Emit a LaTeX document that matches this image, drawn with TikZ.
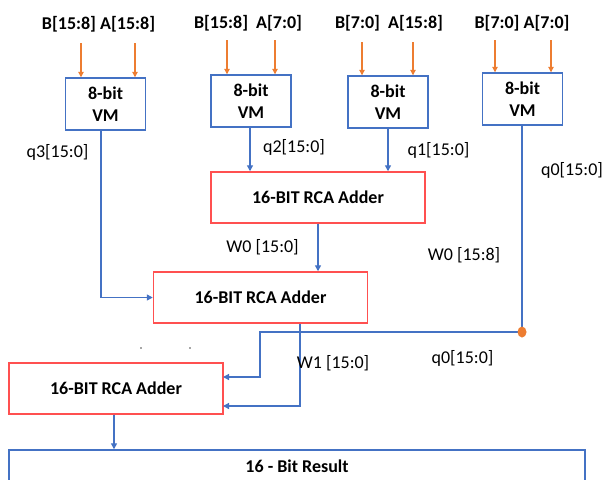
\documentclass[tikz,border=0pt]{standalone}
\usepackage{fontspec}
\setmainfont{Carlito}
\usetikzlibrary{arrows.meta}
\definecolor{vmblue}{HTML}{4472C4}
\definecolor{inorange}{HTML}{ED7D31}
\definecolor{addred}{HTML}{FF5050}
\begin{document}
\begin{tikzpicture}[x=0.75pt,y=-0.75pt,
  lbl/.style={font=\fontsize{13.5}{16}\selectfont, inner sep=0pt},
  blbl/.style={font=\fontsize{13.5}{16}\selectfont\bfseries, inner sep=0pt},
  vmbox/.style={draw=vmblue, line width=1.1pt, minimum width=60pt, minimum height=39pt,
    align=center, font=\fontsize{13.5}{16.5}\selectfont\bfseries, inner sep=0pt},
  addbox/.style={draw=addred, line width=1.1pt, minimum width=160.5pt, minimum height=38.25pt,
    font=\fontsize{13.5}{16}\selectfont\bfseries, inner sep=0pt},
  inarrow/.style={draw=inorange, line width=0.8pt, -{Triangle[length=4pt,width=4pt]}},
  wire/.style={draw=vmblue, line width=1pt},
  warrow/.style={wire, -{Triangle[length=4.5pt,width=4.5pt]}}
]
\useasboundingbox (0,0) rectangle (602,479);

% top input labels
\node[blbl] (in3) at (98.5,24) {B[15:8] A[15:8]};
\node[blbl] (in2) at (248,23) {B[15:8]\hspace{3pt} A[7:0]};
\node[blbl] (in1) at (389,23) {B[7:0]\hspace{3pt} A[15:8]};
\node[blbl] (in0) at (522,23) {B[7:0] A[7:0]};

% VM boxes
\node[vmbox] (vm3) at (105.5,104) {8-bit\\VM};
\node[vmbox] (vm2) at (251,101) {8-bit\\VM};
\node[vmbox] (vm1) at (388,102) {8-bit\\VM};
\node[vmbox] (vm0) at (522.5,99) {8-bit\\VM};

% input arrows
\coordinate (i3b) at (81,43);  \coordinate (i3a) at (135,43);
\coordinate (i2b) at (227,40); \coordinate (i2a) at (275,40);
\coordinate (i1b) at (362,42); \coordinate (i1a) at (413,42);
\coordinate (i0b) at (495,40); \coordinate (i0a) at (551,40);
\draw[inarrow] (i3b) -- (i3b |- vm3.north);
\draw[inarrow] (i3a) -- (i3a |- vm3.north);
\draw[inarrow] (i2b) -- (i2b |- vm2.north);
\draw[inarrow] (i2a) -- (i2a |- vm2.north);
\draw[inarrow] (i1b) -- (i1b |- vm1.north);
\draw[inarrow] (i1a) -- (i1a |- vm1.north);
\draw[inarrow] (i0b) -- (i0b |- vm0.north);
\draw[inarrow] (i0a) -- (i0a |- vm0.north);

% adders
\node[addbox] (a1) at (318,197.5) {16-BIT RCA Adder};
\node[addbox] (a2) at (260.5,297.5) {16-BIT RCA Adder};
\node[addbox] (a3) at (116,388.5) {16-BIT RCA Adder};

% result box (cut off at bottom)
\node[draw=vmblue, line width=1.1pt, minimum width=432pt, minimum height=33pt, inner sep=0pt] (res) at (297,472) {};
\node[blbl] (restxt) at (297,466) {16 - Bit Result};

% wires
\coordinate (x3) at (101,0);
\coordinate (x2) at (250,0);
\coordinate (x1) at (388,0);
\coordinate (x0) at (522,0);
\coordinate (xa1) at (318,0);
\coordinate (xa2) at (300,0);
\coordinate (xa3) at (114,0);
\draw[warrow] (vm3.south -| x3) |- (a2.west);
\draw[warrow] (vm2.south -| x2) -- (a1.north -| x2);
\draw[warrow] (vm1.south -| x1) -- (a1.north -| x1);
\draw[warrow] (a1.south -| xa1) -- (a2.north -| xa1);

\coordinate (dot) at (522,332);
\coordinate (bend) at (260,332);
\coordinate (q0in) at (223,377);
\coordinate (w1in) at (223,406);
\draw[wire] (vm0.south -| x0) -- (dot);
\draw[warrow] (dot) -- (bend) |- (q0in);
\draw[warrow] (a2.south -| xa2) |- (w1in);
\draw[warrow] (a3.south -| xa3) -- (res.north -| xa3);
\fill[inorange] (dot) ellipse [x radius=4.5, y radius=5.5];

% signal labels
\node[lbl] (lq3) at (57.5,152) {q3[15:0]};
\node[lbl] (lq2) at (294,147) {q2[15:0]};
\node[lbl] (lq1) at (438.5,150) {q1[15:0]};
\node[lbl] (lq0) at (572,170) {q0[15:0]};
\node[lbl] (lw0a) at (262.5,247) {W0 [15:0]};
\node[lbl] (lw0b) at (464,255) {W0 [15:8]};
\node[lbl] (lw1) at (333,363) {W1 [15:0]};
\node[lbl] (lq0b) at (462.5,358) {q0[15:0]};

% stray dots
\fill[black!70] (141,348) circle [radius=0.9];
\fill[black!70] (190,348) circle [radius=0.9];
\end{tikzpicture}
\end{document}
